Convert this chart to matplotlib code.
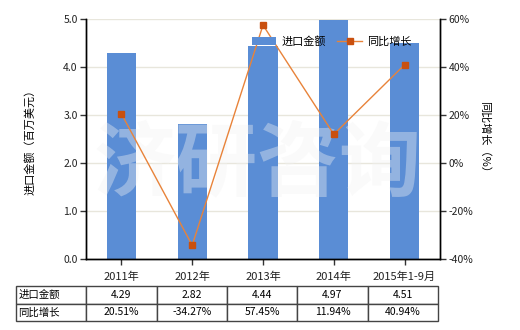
import matplotlib
matplotlib.use("Agg")
import matplotlib.pyplot as plt
import numpy as np

plt.rcParams['font.family'] = ['Noto Sans CJK SC', 'DejaVu Sans']
plt.rcParams['font.size'] = 7.5

# ── Data ──────────────────────────────────────────────────────────────────────
categories = ["2011年", "2012年", "2013年", "2014年", "2015年1-9月"]
import_value = [4.29, 2.82, 4.44, 4.97, 4.51]          # 百万美元
yoy_growth = [20.51, -34.27, 57.45, 11.94, 40.94]      # %
import_labels = ["4.29", "2.82", "4.44", "4.97", "4.51"]
growth_labels = ["20.51%", "-34.27%", "57.45%", "11.94%", "40.94%"]

BAR_COLOR = "#5A8DD5"
LINE_COLOR = "#E8833A"
MARK_COLOR = "#C9500F"
W, H = 520, 330

fig = plt.figure(figsize=(W / 100, H / 100), dpi=100)
ax = fig.add_axes([86 / W, 1 - 259 / H, 354 / W, 240 / H])
ax2 = ax.twinx()

x = np.arange(len(categories))
ax.bar(x, import_value, width=0.41, color=BAR_COLOR, zorder=2, label="进口金额")
ax2.plot(x, yoy_growth, color=LINE_COLOR, linewidth=1, marker="s", markersize=5,
         markerfacecolor=MARK_COLOR, markeredgecolor=MARK_COLOR, zorder=3, label="同比增长")

ax.set_xlim(-0.5, len(categories) - 0.5)
ax.set_ylim(0, 5)
ax.set_yticks(np.arange(0, 5.01, 1.0))
ax.set_yticklabels([f"{v:.1f}" for v in np.arange(0, 5.01, 1.0)])
ax2.set_ylim(-40, 60)
ax2.set_yticks(np.arange(-40, 61, 20))
ax2.set_yticklabels([f"{v}%" for v in range(-40, 61, 20)])

ax.set_xticks(x)
ax.set_xticklabels(categories, fontsize=8)
ax.yaxis.grid(True, color="#E8E6DC", linewidth=1, zorder=0)
ax.set_axisbelow(True)

for a in (ax, ax2):
    a.spines["top"].set_visible(False)
    for s in ("left", "right", "bottom"):
        a.spines[s].set_color("black")
        a.spines[s].set_linewidth(1)
    a.tick_params(length=4, width=1, colors="#333333", labelcolor="#222222", pad=2)
ax.tick_params(axis="x", pad=5)

ax.set_ylabel("进口金额（百万美元）", fontsize=8, labelpad=20)
ax2.set_ylabel("同比增长（%）", fontsize=8, rotation=270, labelpad=12)

# watermark (between bars and line)
ax.text(0.485, 0.39, "济研咨询", transform=ax.transAxes, fontsize=59, fontweight="bold",
        color="#f2f2f2", alpha=0.38, ha="center", va="center", zorder=3)

# legend
h1, l1 = ax.get_legend_handles_labels()
h2, l2 = ax2.get_legend_handles_labels()
leg = ax2.legend(h1 + h2, l1 + l2, loc="upper left", bbox_to_anchor=(0.44, 0.97),
                 ncol=2, frameon=False, fontsize=8, handlelength=2.2,
                 columnspacing=1.0, handletextpad=0.5)

# data table under the chart
cell_text = [["进口金额"] + import_labels, ["同比增长"] + growth_labels]
tbl = ax.table(cellText=cell_text, cellLoc="center",
               bbox=[(16 - 86) / 354, (259 - 321) / 240, (438 - 16) / 354, 35 / 240])
tbl.auto_set_font_size(False)
tbl.set_fontsize(7.5)
for (r, c), cell in tbl.get_celld().items():
    cell.set_edgecolor("#444444")
    cell.set_linewidth(1)
    if c == 0:
        cell.set_text_props(ha="left")
        cell.PAD = 0.03

fig.savefig("out.png", dpi=100)
